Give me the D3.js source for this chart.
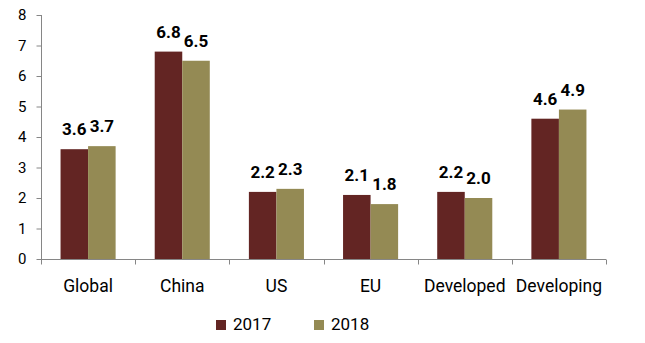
<!DOCTYPE html>
<html>
<head>
<meta charset="utf-8">
<script src="https://cdn.jsdelivr.net/npm/d3@7"></script>
<style>
  body { margin: 0; background: #fff; }
  text { font-family: Roboto, "DejaVu Sans", sans-serif; fill: #000; }
</style>
</head>
<body>
<svg width="645" height="343"></svg>
<script>
  var categories = ["Global", "China", "US", "EU", "Developed", "Developing"]
  var seriesNames = ["2017", "2018"]
  var values2017 = [3.6, 6.8, 2.2, 2.1, 2.2, 4.6]
  var values2018 = [3.7, 6.5, 2.3, 1.8, 2.0, 4.9]
  var yTicks = [0, 1, 2, 3, 4, 5, 6, 7, 8]
  var colors = ["#632523", "#948a54"]

  var svg = d3.select("svg")
  var plotLeft = 41, plotRight = 606, plotTop = 15, plotBottom = 259

  var x = d3.scaleBand().domain(categories).range([plotLeft, plotRight]).paddingInner(0).paddingOuter(0)
  var inner = d3.scaleBand().domain(seriesNames).range([0, x.bandwidth()]).paddingOuter(0.71).paddingInner(0)
  var y = d3.scaleLinear().domain([0, 8]).range([plotBottom, plotTop])

  var data = categories.map(function (c, i) {
    return { cat: c, vals: [values2017[i], values2018[i]] }
  })

  // bars
  var groups = svg.append("g").selectAll("g")
    .data(data)
    .enter().append("g")
    .attr("transform", function (d) { return "translate(" + x(d.cat) + ",0)" })

  groups.selectAll("rect")
    .data(function (d) { return d.vals.map(function (v, j) { return { s: seriesNames[j], v: v, j: j } }) })
    .enter().append("rect")
    .attr("x", function (d) { return inner(d.s) })
    .attr("width", inner.bandwidth())
    .attr("y", function (d) { return y(d.v) })
    .attr("height", function (d) { return y(0) - y(d.v) })
    .attr("fill", function (d) { return colors[d.j] })

  groups.selectAll("text")
    .data(function (d) { return d.vals.map(function (v, j) { return { s: seriesNames[j], v: v } }) })
    .enter().append("text")
    .attr("x", function (d) { return inner(d.s) + inner.bandwidth() / 2 })
    .attr("y", function (d) { return y(d.v) - 14 })
    .attr("text-anchor", "middle")
    .attr("font-size", 17)
    .attr("font-weight", "bold")
    .text(function (d) { return d.v.toFixed(1) })

  // y axis
  var yAxis = svg.append("g")
    .attr("transform", "translate(" + (plotLeft + 0.5) + ",0)")
    .call(d3.axisLeft(y).tickValues(yTicks).tickSize(5).tickPadding(10).tickFormat(d3.format("d")))
  yAxis.selectAll("path, line").attr("stroke", "#868686")
  yAxis.select(".domain").attr("d", "M0," + plotTop + "V" + plotBottom)
  yAxis.selectAll("text").attr("font-size", 15).attr("font-family", "Roboto, sans-serif").attr("fill", "#000")

  // x axis
  var xAxis = svg.append("g").attr("transform", "translate(0," + (plotBottom + 0.5) + ")")
  xAxis.append("line")
    .attr("x1", plotLeft).attr("x2", plotRight)
    .attr("stroke", "#868686")
  var edges = categories.map(function (c) { return x(c) }).concat([plotRight])
  xAxis.selectAll(".tk")
    .data(edges)
    .enter().append("line")
    .attr("x1", function (d) { return Math.round(d) + 0.5 })
    .attr("x2", function (d) { return Math.round(d) + 0.5 })
    .attr("y1", 0).attr("y2", 5)
    .attr("stroke", "#868686")
  xAxis.selectAll("text")
    .data(categories)
    .enter().append("text")
    .attr("x", function (d) { return x(d) + x.bandwidth() / 2 })
    .attr("y", 32)
    .attr("text-anchor", "middle")
    .attr("font-size", 17.5)
    .text(function (d) { return d })

  // legend
  var legendX = [216, 314]
  var legend = svg.append("g").selectAll("g")
    .data(seriesNames)
    .enter().append("g")
    .attr("transform", function (d, i) { return "translate(" + legendX[i] + ",320)" })
  legend.append("rect")
    .attr("width", 10).attr("height", 10)
    .attr("fill", function (d, i) { return colors[i] })
  legend.append("text")
    .attr("x", 17).attr("y", 10)
    .attr("font-size", 17)
    .text(function (d) { return d })
</script>
</body>
</html>
